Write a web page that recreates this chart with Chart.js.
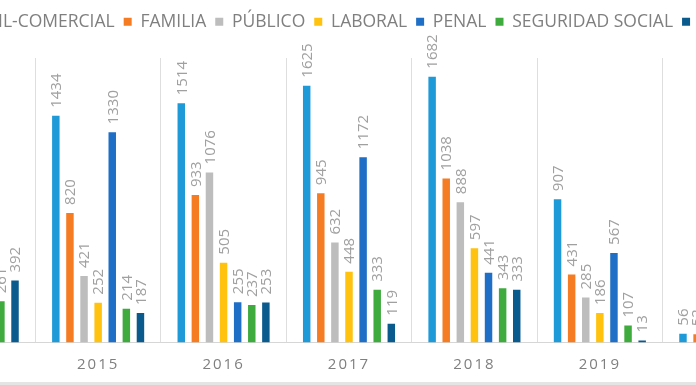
<!DOCTYPE html>
<html>
<head>
<meta charset="utf-8">
<script src="https://cdn.jsdelivr.net/npm/chart.js@4.4.1/dist/chart.umd.min.js"></script>
<style>
  html, body { margin: 0; padding: 0; background: #fff; }
  body { width: 696px; height: 385px; overflow: hidden; position: relative; }
  #wrap { position: absolute; left: -100px; top: 0; width: 898px; height: 400px; }
  #pie { position: absolute; left: 0; top: 382px; width: 696px; height: 3px; background: #e4e4e4; }
</style>
</head>
<body>
<div id="wrap"><canvas id="grafico" width="898" height="400"></canvas></div>
<div id="pie"></div>
<script>
// años (categorías)
const anios = ['2014', '2015', '2016', '2017', '2018', '2019', '2020'];

// valores por especialidad (null = fuera del recorte)
const civilComercial  = [null, 1434, 1514, 1625, 1682, 907, 56];
const familia         = [null, 820, 933, 945, 1038, 431, 52];
const publico         = [null, 421, 1076, 632, 888, 285, null];
const laboral         = [null, 252, 505, 448, 597, 186, null];
const penal           = [null, 1330, 255, 1172, 441, 567, null];
const seguridadSocial = [261, 214, 237, 333, 343, 107, null];
const otros           = [392, 187, 253, 119, 333, 13, null];

const series = [
    { label: 'CIVIL-COMERCIAL', data: civilComercial, color: '#1f9ad8' },
    { label: 'FAMILIA', data: familia, color: '#f57c22' },
    { label: 'PÚBLICO', data: publico, color: '#bdbdbd' },
    { label: 'LABORAL', data: laboral, color: '#ffc20e' },
    { label: 'PENAL', data: penal, color: '#1f6fc6' },
    { label: 'SEGURIDAD SOCIAL', data: seguridadSocial, color: '#3fab3f' },
    { label: 'OTROS', data: otros, color: '#0b5a8e' }
];

const fuente = '"Open Sans", "Noto Sans", sans-serif';

// espacio extra debajo de la leyenda y pequeño corrimiento horizontal
const margenLeyenda = {
    id: 'margenLeyenda',
    beforeInit(chart) {
        const leyenda = chart.legend;
        const fit = leyenda.fit;
        leyenda.fit = function () {
            fit.call(this);
            this.height += 17.5;
        };
        const draw = leyenda.draw;
        leyenda.draw = function () {
            this.ctx.save();
            this.ctx.translate(6.5, 0);
            draw.call(this);
            this.ctx.restore();
        };
    }
};

// etiquetas verticales encima de cada barra
const etiquetasPlugin = {
    id: 'etiquetas',
    beforeDraw(chart) {
        const x = chart.scales.x;
        if (!x._espaciado) {
            const orig = x.drawLabels;
            x.drawLabels = function (area) {
                this.ctx.save();
                this.ctx.letterSpacing = '2px';
                orig.call(this, area);
                this.ctx.restore();
            };
            x._espaciado = true;
        }
    },
    afterDatasetsDraw(chart) {
        const ctx = chart.ctx;
        ctx.save();
        ctx.font = '15px ' + fuente;
        ctx.fillStyle = '#a0a0a0';
        ctx.textAlign = 'left';
        ctx.textBaseline = 'middle';
        chart.data.datasets.forEach((ds, i) => {
            const meta = chart.getDatasetMeta(i);
            meta.data.forEach((bar, j) => {
                const v = ds.data[j];
                if (v === null) return;
                ctx.save();
                ctx.translate(bar.x + 1, bar.y - 8);
                ctx.rotate(-Math.PI / 2);
                ctx.fillText(String(v), 0, 0);
                ctx.restore();
            });
        });
        ctx.restore();
    }
};

const chart = new Chart(document.getElementById('grafico'), {
    type: 'bar',
    data: {
        labels: anios,
        datasets: series.map(s => ({
            label: s.label,
            data: s.data,
            backgroundColor: s.color,
            categoryPercentage: 0.787,
            barPercentage: 0.53
        }))
    },
    options: {
        responsive: false,
        animation: false,
        layout: { padding: { left: 10, right: 10, top: 4, bottom: 13.5 } },
        plugins: {
            legend: {
                position: 'top',
                labels: {
                    font: { size: 17.5, family: fuente },
                    color: '#7f7f7f',
                    boxWidth: 8,
                    boxHeight: 8,
                    padding: 9
                }
            },
            tooltip: { enabled: false }
        },
        scales: {
            x: {
                grid: { color: '#dedede', drawTicks: false, offset: true },
                border: { color: '#d6d6d6' },
                ticks: {
                    font: { size: 15, family: fuente },
                    color: '#7f7f7f',
                    padding: 13
                }
            },
            y: {
                display: false,
                min: 0,
                max: 1800
            }
        }
    },
    plugins: [margenLeyenda, etiquetasPlugin]
});
chart.draw();
</script>
</body>
</html>
